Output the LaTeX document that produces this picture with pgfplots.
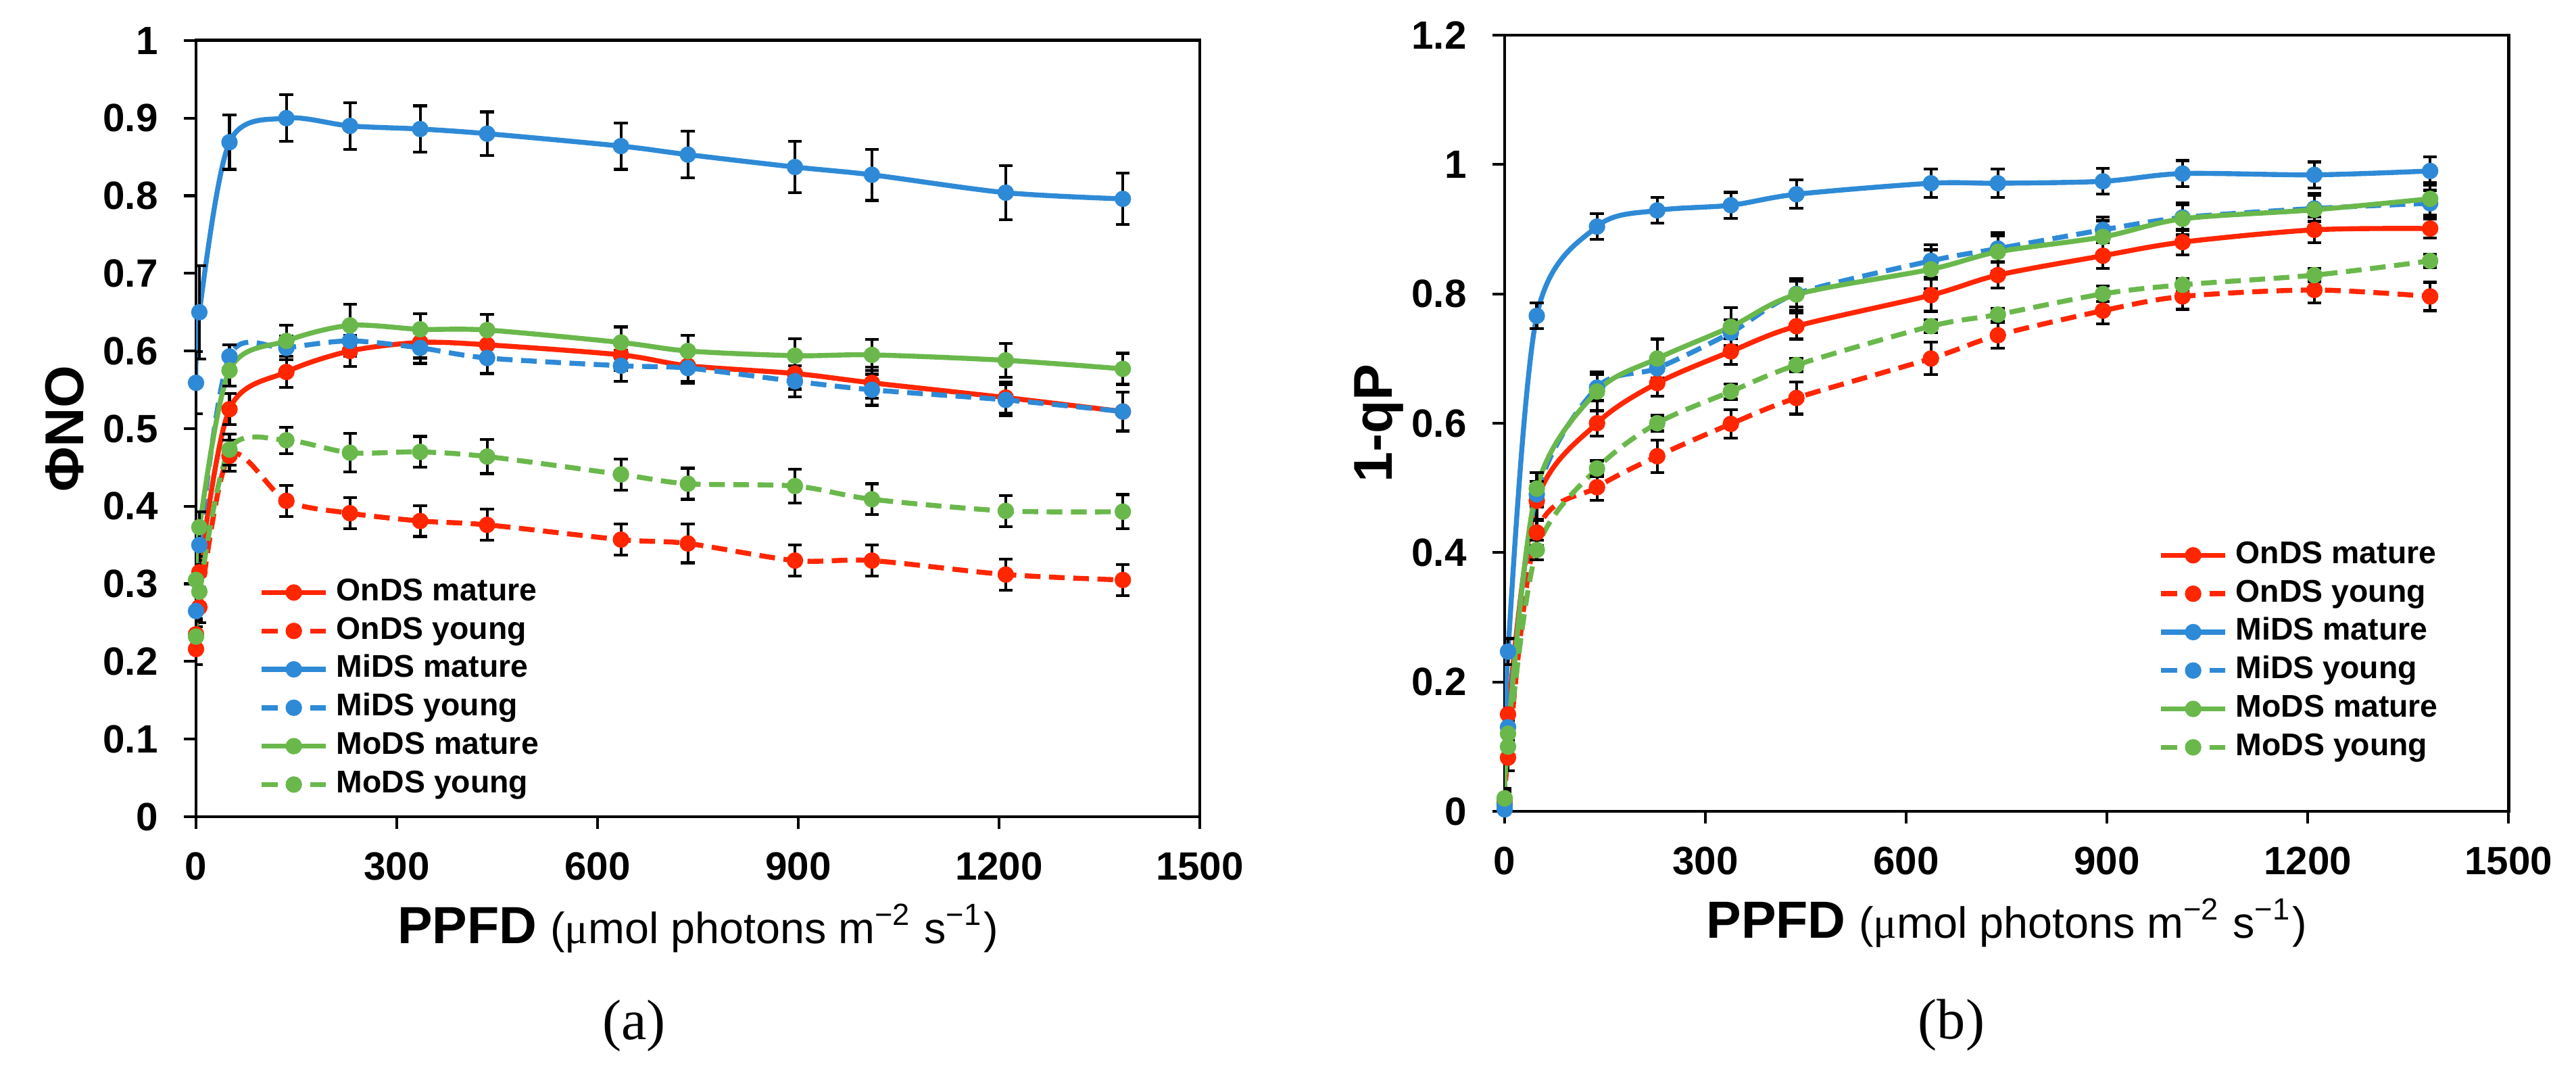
\documentclass[border=0pt]{standalone}
\usepackage{fontspec}
\setmainfont{Liberation Sans}
\newfontfamily\serif{Liberation Serif}
\usepackage{pgfplots}
\pgfplotsset{compat=1.18}

\definecolor{ondsred}{RGB}{255,38,0}
\definecolor{midsblue}{RGB}{46,138,214}
\definecolor{modsgreen}{RGB}{106,184,76}

\newcommand\tickfont{\fontsize{8.3}{9}\selectfont\bfseries}
\newcommand\legfont{\fontsize{6.6}{7}\selectfont\bfseries}
\newcommand\labfont{\fontsize{11.5}{12}\selectfont\bfseries}

\pgfplotsset{
  panel/.style={
    scale only axis, width=7.425cm, height=5.74cm, anchor=south west,
    xmin=0, xmax=1500, xtick={0,300,...,1500},
    axis line style={line width=0.7pt},
    tick align=outside, tick pos=left,
    major tick length=0.09cm,
    every tick/.style={black, line width=0.6pt},
    /pgf/number format/assume math mode=true,
    /pgf/number format/1000 sep={},
    /pgf/number format/fixed,
    ticklabel style={inner sep=0pt},
    xticklabel={\tickfont\pgfmathprintnumber{\tick}},
    yticklabel={\tickfont\pgfmathprintnumber{\tick}},
    xticklabel shift=0.165cm,
    yticklabel shift=0.185cm,
    xlabel style={at={(axis description cs:0.5,-0.163)}, anchor=base, inner sep=0pt},
    ylabel style={at={(axis description cs:-0.112,0.5)}, anchor=base, inner sep=0pt},
    xlabel={{\fontsize{11}{12}\selectfont\bfseries PPFD} {\fontsize{9.2}{10}\selectfont({\serif μ}mol photons m\textsuperscript{−2} s\textsuperscript{−1})}},
    legend style={draw=none, fill=none,
      anchor=north west, row sep=1.88pt, inner sep=0pt,
      nodes={inner sep=0pt, text height=4.8pt, text depth=1.4pt},
      /tikz/every odd column/.style={column sep=0.06cm}},
    legend cell align=left,
    legend image code/.code={
      \draw[##1, mark repeat=2, mark phase=2] plot coordinates {(0cm,0cm) (0.2375cm,0cm) (0.475cm,0cm)};
    },
  },
  ser/.style={line width=1.05pt, mark=*, mark size=1.2pt, mark options={solid}, smooth, tension=0.5},
  dsh/.style={dash pattern=on 3.3pt off 1.8pt},
  eb/.style={error bars/y dir=both, error bars/y explicit,
    error bars/error bar style={black, line width=0.6pt, solid},
    error bars/error mark options={black, rotate=90, mark size=1.45pt, line width=0.6pt, solid}},
}

\begin{document}
\begin{tikzpicture}
\useasboundingbox (0,0) rectangle (19.055,7.95);

% (a) PhiNO
\begin{axis}[panel, at={(1.45cm,1.91cm)},
  ymin=0, ymax=1, ytick={0,0.1,...,1},
  ylabel={\labfont ΦNO},
  legend style={at={(axis description cs:0.062,0.309)}}]
\addplot[ser, color=ondsred, eb] table[x=x, y=y, y error=e] {
x y e
0 0.235 0.02
5 0.315 0.02
50 0.525 0.02
135 0.573 0.02
230 0.600 0.02
335 0.611 0.02
435 0.608 0.02
635 0.595 0.02
735 0.581 0.02
895 0.571 0.02
1010 0.559 0.02
1210 0.540 0.02
1385 0.522 0.025
};
\addlegendentry{\legfont OnDS mature}
\addplot[ser, dsh, color=ondsred, eb] table[x=x, y=y, y error=e] {
x y e
0 0.216 0.02
5 0.270 0.02
50 0.465 0.02
135 0.407 0.02
230 0.391 0.02
335 0.381 0.02
435 0.376 0.02
635 0.357 0.02
735 0.352 0.025
895 0.330 0.02
1010 0.330 0.02
1210 0.312 0.02
1385 0.305 0.02
};
\addlegendentry{\legfont OnDS young}
\addplot[ser, color=midsblue, eb] table[x=x, y=y, y error=e] {
x y e
0 0.559 0.04
5 0.650 0.06
50 0.869 0.035
135 0.900 0.03
230 0.890 0.03
335 0.886 0.03
435 0.880 0.028
635 0.864 0.03
735 0.853 0.03
895 0.837 0.033
1010 0.827 0.033
1210 0.804 0.035
1385 0.796 0.033
};
\addlegendentry{\legfont MiDS mature}
\addplot[ser, dsh, color=midsblue, eb] table[x=x, y=y, y error=e] {
x y e
0 0.265 0.02
5 0.350 0.02
50 0.593 0.015
135 0.604 0.015
230 0.613 0.02
335 0.604 0.02
435 0.591 0.02
635 0.581 0.02
735 0.578 0.02
895 0.561 0.02
1010 0.550 0.02
1210 0.537 0.02
1385 0.522 0.025
};
\addlegendentry{\legfont MiDS young}
\addplot[ser, color=modsgreen, eb] table[x=x, y=y, y error=e] {
x y e
0 0.305 0.02
5 0.373 0.02
50 0.575 0.02
135 0.613 0.02
230 0.633 0.027
335 0.628 0.02
435 0.627 0.02
635 0.611 0.02
735 0.600 0.02
895 0.594 0.022
1010 0.595 0.02
1210 0.588 0.022
1385 0.577 0.02
};
\addlegendentry{\legfont MoDS mature}
\addplot[ser, dsh, color=modsgreen, eb] table[x=x, y=y, y error=e] {
x y e
0 0.232 0.02
5 0.290 0.02
50 0.473 0.02
135 0.485 0.017
230 0.469 0.025
335 0.470 0.02
435 0.464 0.022
635 0.441 0.02
735 0.429 0.02
895 0.426 0.022
1010 0.409 0.02
1210 0.394 0.02
1385 0.393 0.022
};
\addlegendentry{\legfont MoDS young}
\end{axis}

% (b) 1-qP
\begin{axis}[panel, at={(11.13cm,1.95cm)},
  ymin=0, ymax=1.2, ytick={0,0.2,...,1.2},
  ylabel={\labfont 1-qP},
  legend style={at={(axis description cs:0.6505,0.35)}}]
\addplot[ser, color=ondsred, eb] table[x=x, y=y, y error=e] {
x y e
0 0.015 0.02
5 0.150 0.02
48 0.480 0.03
138 0.600 0.02
228 0.662 0.02
338 0.711 0.02
436 0.750 0.02
637 0.798 0.025
737 0.829 0.02
894 0.859 0.02
1013 0.880 0.02
1210 0.899 0.02
1383 0.901 0.015
};
\addlegendentry{\legfont OnDS mature}
\addplot[ser, dsh, color=ondsred, eb] table[x=x, y=y, y error=e] {
x y e
0 0.010 0.02
5 0.083 0.02
48 0.431 0.02
138 0.501 0.02
228 0.549 0.025
338 0.599 0.022
436 0.639 0.025
637 0.700 0.025
737 0.736 0.02
894 0.774 0.02
1013 0.796 0.02
1210 0.806 0.02
1383 0.796 0.022
};
\addlegendentry{\legfont OnDS young}
\addplot[ser, color=midsblue, eb] table[x=x, y=y, y error=e] {
x y e
0 0.003 0.02
5 0.247 0.02
48 0.766 0.02
138 0.904 0.02
228 0.929 0.02
338 0.937 0.02
436 0.954 0.022
637 0.971 0.022
737 0.971 0.022
894 0.974 0.02
1013 0.986 0.02
1210 0.984 0.02
1383 0.990 0.022
};
\addlegendentry{\legfont MiDS mature}
\addplot[ser, dsh, color=midsblue, eb] table[x=x, y=y, y error=e] {
x y e
0 0.010 0.02
5 0.130 0.02
48 0.490 0.02
138 0.655 0.02
228 0.685 0.02
338 0.740 0.02
436 0.800 0.02
637 0.851 0.025
737 0.870 0.02
894 0.899 0.02
1013 0.918 0.02
1210 0.932 0.02
1383 0.940 0.02
};
\addlegendentry{\legfont MiDS young}
\addplot[ser, color=modsgreen, eb] table[x=x, y=y, y error=e] {
x y e
0 0.020 0.015
5 0.120 0.02
48 0.499 0.025
138 0.649 0.03
228 0.700 0.03
338 0.749 0.03
436 0.799 0.025
637 0.838 0.03
737 0.865 0.03
894 0.888 0.025
1013 0.916 0.025
1210 0.930 0.025
1383 0.947 0.025
};
\addlegendentry{\legfont MoDS mature}
\addplot[ser, dsh, color=modsgreen, eb] table[x=x, y=y, y error=e] {
x y e
0 0.020 0.015
5 0.100 0.015
48 0.404 0.015
138 0.530 0.012
228 0.600 0.012
338 0.649 0.012
436 0.690 0.01
637 0.750 0.01
737 0.768 0.01
894 0.800 0.012
1013 0.814 0.01
1210 0.829 0.01
1383 0.851 0.01
};
\addlegendentry{\legfont MoDS young}
\end{axis}

\node[font=\serif\fontsize{12}{14}\selectfont] at (4.69,0.365) {(a)};
\node[font=\serif\fontsize{12}{14}\selectfont] at (14.435,0.37) {(b)};
\end{tikzpicture}
\end{document}
